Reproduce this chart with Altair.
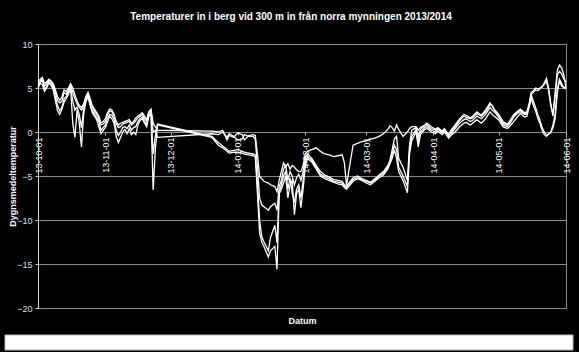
import altair as alt
import pandas as pd

days = list(range(0, 56)) + [
    80, 83, 85, 87, 88, 90, 92, 94, 95, 97, 99, 100,
    101, 102, 103, 104, 106, 107, 109, 110,
    111, 112, 113, 114, 115, 116, 117, 118, 119, 120,
    121, 122, 123, 124, 126, 128, 130, 132, 134, 136,
    138, 140, 141, 142, 143, 145, 147, 149, 151, 153,
    155, 157, 159, 161, 162, 163, 164, 165, 166, 168,
    170, 171, 172, 174, 175, 176, 178, 179, 181, 183,
    184, 186, 187, 189, 190, 192, 194, 196, 197, 199,
    200, 202, 204, 206, 208, 209, 210, 212, 214, 216,
    217, 219, 221, 222, 224, 225, 226, 227, 228, 229,
    230, 231, 232, 233, 234, 235, 236, 237, 238, 239,
    240, 241, 242, 243]

s1 = [5.8, 6.0, 6.2, 5.5, 5.7, 6.0, 5.8, 5.5, 4.8, 4.0,
      3.6, 4.0, 4.8, 4.6, 5.0, 5.5, 5.0, 4.2, 3.5, 3.0,
      2.8, 3.2, 4.0, 4.5, 3.8, 3.0, 2.6, 2.2, 1.8, 1.0,
      1.2, 1.5, 2.2, 2.6, 2.5, 2.0, 1.2, 0.8, 1.0, 1.1,
      1.2, 1.3, 1.4, 1.0, 1.2, 1.6, 1.8, 2.0, 2.2, 1.8,
      1.4, 2.3, 2.6, 1.0, 0.6, 0.2,
      0.1, 0.0, 0.2, -0.9, -0.4, -0.6, -0.1, -0.3, -0.9, -0.4, -0.3, -0.4,
      -2.5, -5.1, -5.3, -5.6, -5.8, -6.0, -6.2, -6.8,
      -5.5, -4.5, -3.5, -4.0, -3.6, -4.2, -3.8, -4.0, -4.3, -4.5,
      -4.5, -3.8, -2.5, -2.2, -2.0, -1.8, -2.2, -2.5, -2.6, -2.8,
      -2.7, -2.6, -3.5, -6.1, -4.5, -1.5, -1.3, -1.1, -1.0, -0.8,
      -0.7, -0.5, -0.2, 0.3, 0.7, 0.5, 0.1, 0.8, 0.3, -0.5,
      0.0, 0.4, 0.6, 0.6, 0.2, 0.5, 0.8, 1.0, 0.6, 0.3,
      0.5, 0.1, 0.4, -0.3, 0.2, 0.8, 1.5, 2.0, 1.9, 1.6,
      1.8, 2.3, 1.9, 2.5, 3.3, 3.0, 2.6, 2.0, 1.2, 0.9,
      1.2, 2.0, 2.4, 2.6, 2.2, 2.3, 3.2, 4.5, 4.7, 5.0,
      4.9, 5.0, 5.1, 5.6, 6.1, 5.0, 3.2, 1.8, 4.5, 7.0,
      7.6, 7.3, 6.5, 5.0]

s2 = [5.5, 5.8, 6.0, 5.2, 5.5, 5.9, 5.7, 5.3, 4.5, 3.6,
      3.3, 3.5, 4.5, 4.3, 4.8, 5.3, 4.5, 3.8, 3.2, 2.8,
      2.5, 3.0, 3.9, 4.4, 3.6, 2.8, 2.3, 2.0, 1.5, 0.8,
      0.9, 1.2, 2.0, 2.4, 2.3, 1.8, 1.0, 0.5, 0.6, 0.9,
      1.0, 1.1, 1.2, 0.8, 1.0, 1.3, 1.6, 1.8, 2.0, 1.5,
      1.2, 2.2, 2.5, 0.0, 0.2, -0.6,
      -0.2, -0.3, 0.0, -0.6, -0.2, -0.5, -0.9, -0.8, -0.3, -0.5, -0.5, -0.8,
      -4.0, -7.5, -8.3, -8.5, -8.9, -8.5, -8.1, -8.9,
      -6.2, -5.5, -4.2, -3.8, -5.5, -4.5, -5.0, -6.0, -5.2, -4.8,
      -5.5, -4.5, -3.0, -2.5, -3.0, -3.8, -4.5, -4.9, -5.1, -5.4,
      -5.5, -5.6, -6.0, -6.2, -5.8, -5.2, -5.0, -5.3, -5.5, -5.7,
      -5.3, -4.9, -4.5, -3.8, -3.2, -2.0, -0.8, -0.5, -3.0, -4.0,
      -5.5, -1.5, 0.2, 0.5, -0.5, 0.3, 0.7, 0.8, 0.4, 0.2,
      0.4, 0.0, 0.3, -0.4, 0.0, 0.6, 1.3, 1.8, 1.7, 1.5,
      1.6, 2.1, 1.8, 2.3, 3.1, 3.0, 2.5, 1.9, 1.0, 0.8,
      1.1, 1.9, 2.3, 2.5, 2.1, 2.2, 3.0, 4.3, 4.5, 4.8,
      4.7, 4.9, 5.2, 5.4, 5.8, 4.7, 3.0, 2.0, 4.0, 6.5,
      6.9, 6.6, 6.0, 5.7]

s3 = [5.2, 5.6, 5.9, 4.8, 5.2, 5.7, 5.5, 5.0, 4.0, 3.0,
      2.4, 2.8, 3.8, 4.0, 4.5, 5.1, 3.5, 2.5, 2.8, 2.0,
      0.5, 2.6, 3.6, 4.2, 3.2, 2.4, 2.0, 1.6, 1.2, 0.2,
      0.5, 0.8, 1.6, 2.0, 1.9, 1.4, 0.2, -0.4, 0.0, 0.5,
      0.6, 0.4, 0.8, 0.2, 0.5, 0.6, 1.2, 1.5, 1.7, 1.2,
      0.8, 2.0, 2.2, -2.5, -0.5, 0.9,
      -0.5, -1.2, -1.6, -2.0, -2.2, -2.1, -2.0, -2.2, -2.3, -2.4, -2.5, -2.6,
      -6.0, -10.0, -11.9, -12.5, -13.5, -12.0, -10.6, -12.6,
      -6.8, -6.0, -5.0, -4.5, -6.5, -5.2, -7.0, -8.0, -6.5, -6.0,
      -7.5, -5.5, -3.5, -2.8, -3.2, -4.0, -4.8, -5.1, -5.3, -5.6,
      -5.7, -5.8, -6.2, -6.4, -6.0, -5.4, -5.2, -5.4, -5.6, -5.8,
      -5.5, -5.0, -4.7, -4.0, -3.4, -2.5, -1.5, -2.0, -4.0, -5.0,
      -6.2, -2.0, -0.5, 0.3, -1.2, 0.0, 0.5, 0.6, 0.2, 0.0,
      0.3, -0.1, 0.2, -0.5, -0.2, 0.4, 1.0, 1.4, 1.5, 1.2,
      1.3, 1.8, 1.5, 2.0, 2.8, 2.5, 2.3, 1.7, 0.8, 0.6,
      0.9, 1.7, 2.2, 2.3, 2.0, 2.0, 3.0, 4.2, 3.5, 2.8,
      2.0, 1.3, 0.5, 0.0, -0.3, -0.3, 0.0, 0.8, 2.0, 4.8,
      6.0, 5.5, 5.0, 4.9]

s4 = [5.0, 5.5, 5.4, 4.6, 5.0, 5.6, 5.3, 4.8, 3.6, 2.4,
      2.0, 2.6, 3.4, 3.8, 4.3, 5.0, 1.0, -0.6, 2.5, 1.0,
      -1.7, 2.0, 3.4, 4.0, 3.0, 2.2, 1.8, 1.4, 0.6, -0.2,
      0.2, 0.5, 1.2, 1.8, 1.5, 1.0, -0.5, -1.2, -0.6, 0.0,
      0.3, -0.2, 0.4, -0.3, 0.0, -0.3, 0.8, 1.3, 1.5, 1.0,
      0.6, 1.8, 2.0, -6.6, -2.0, 0.8,
      -0.6, -1.5, -1.8, -2.2, -2.4, -2.3, -2.3, -2.4, -2.5, -2.6, -2.7, -2.8,
      -7.0, -11.5, -12.5, -13.0, -14.2, -13.5, -13.0, -15.6,
      -7.0, -6.5, -5.8, -5.0, -7.5, -6.0, -5.5, -9.4, -7.0, -6.5,
      -8.6, -6.5, -4.0, -3.0, -3.4, -4.2, -5.0, -5.3, -5.5, -5.7,
      -5.9, -6.0, -6.3, -6.5, -6.2, -5.6, -5.3, -5.5, -5.8, -6.0,
      -5.6, -5.2, -4.9, -4.2, -3.6, -3.0, -2.0, -3.0, -4.5, -5.5,
      -6.9, -2.5, -1.0, 0.0, -1.7, -0.3, 0.3, 0.4, 0.0, -0.2,
      0.1, -0.3, 0.0, -0.7, -0.4, 0.0, 0.6, 1.0, 1.1, 0.8,
      1.0, 1.4, 1.0, 1.5, 2.3, 2.0, 1.8, 1.4, 0.6, 0.4,
      0.6, 1.2, 1.8, 2.1, 1.7, 1.8, 2.8, 3.8, 3.0, 2.4,
      1.6, 1.0, 0.2, -0.3, -0.5, -0.2, -0.1, 0.5, 1.5, 4.5,
      5.8, 5.2, 5.1, 5.0]

series_names = ["Givare 1", "Givare 2", "Givare 3", "Givare 4"]
y_ticks = [-20, -15, -10, -5, 0, 5, 10]
month_ticks = [(2013, 10), (2013, 11), (2013, 12), (2014, 1), (2014, 2),
               (2014, 3), (2014, 4), (2014, 5), (2014, 6)]

for s in (s1, s2, s3, s4):
    assert len(s) == len(days), (len(s), len(days))

start = pd.Timestamp("2013-10-01")
dates = [(start + pd.Timedelta(days=d)).strftime("%Y-%m-%dT00:00:00") for d in days]
rows = []
for name, vals in zip(series_names, [s1, s2, s3, s4]):
    for dt, v in zip(dates, vals):
        rows.append({"datum": dt, "serie": name, "temp": v})
df = pd.DataFrame(rows)

FONT = "Liberation Sans"
tick_vals = [alt.DateTime(year=y, month=m, date=1) for y, m in month_ticks]

lines = alt.Chart(df).mark_line(color="white", strokeWidth=1.3).encode(
    x=alt.X("datum:T",
            scale=alt.Scale(domain=[tick_vals[0], tick_vals[-1]], nice=False),
            axis=alt.Axis(values=tick_vals, format="%y-%m-%d", orient="bottom",
                          offset=-176, domain=False, grid=False,
                          tickColor="#bfbfbf", tickSize=3,
                          labelAngle=270, labelAlign="right", labelBaseline="middle",
                          labelPadding=2, labelFontSize=9, labelColor="#ffffff",
                          labelFont=FONT, labelOverlap=False, labelFlush=False,
                          title="Datum", titleY=188, titleBaseline="middle",
                          titleFont=FONT, titleFontSize=9, titleFontWeight="bold",
                          titleColor="#ffffff")),
    y=alt.Y("temp:Q",
            scale=alt.Scale(domain=[-20, 10], nice=False),
            axis=alt.Axis(values=y_ticks, grid=True, gridColor="#8c8c8c", gridWidth=1,
                          domainColor="#d9d9d9", tickColor="#d9d9d9", tickSize=3,
                          labelColor="#e0e0e0", labelFontSize=9, labelFont=FONT,
                          labelPadding=3,
                          title="Dygnsmedeltemperatur", titleX=-26,
                          titleBaseline="middle", titleFont=FONT, titleFontSize=9,
                          titleFontWeight="bold", titleColor="#ffffff")),
    detail="serie:N",
)

box = alt.Chart(pd.DataFrame({"k": [0]})).mark_rect(
    fill="white", stroke="#bfbfbf", strokeWidth=1
).encode(x=alt.value(-33), x2=alt.value(535), y=alt.value(291), y2=alt.value(306))

chart = alt.layer(lines, box).properties(
    width=528, height=264,
    title=alt.TitleParams("Temperaturer in i berg vid 300 m in från norra mynningen 2013/2014",
                          font=FONT, fontSize=10, fontWeight="bold", color="#ffffff",
                          anchor="middle", dx=-11, offset=18),
    autosize=alt.AutoSizeParams(type="none"),
    padding={"left": 38, "top": 44, "right": 13, "bottom": 44},
).configure(background="black").configure_view(stroke="#8c8c8c", strokeWidth=1)

chart.save("out.html", embed_options={"renderer": "svg", "actions": False})
